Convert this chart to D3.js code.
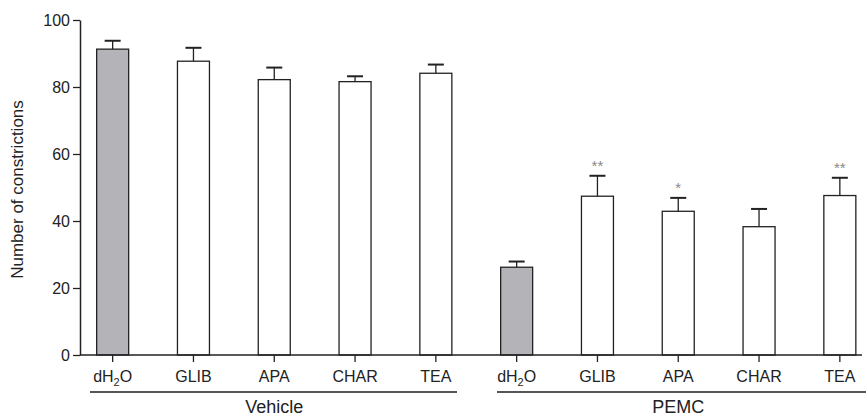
<!DOCTYPE html>
<html>
<head>
<meta charset="utf-8">
<script src="https://cdn.jsdelivr.net/npm/d3@7"></script>
<style>
  body { margin: 0; background: #fff; }
  svg text { font-family: "Liberation Sans", Arial, sans-serif; fill: #222; }
</style>
</head>
<body>
<div id="root"></div>
<script>
// chart values
var groups = ["Vehicle", "PEMC"];
var treatments = ["dH2O", "GLIB", "APA", "CHAR", "TEA"];
var vehicleMeans = [91.3, 87.7, 82.2, 81.6, 84.1];
var vehicleErrs = [2.5, 4.0, 3.6, 1.6, 2.6];
var pemcMeans = [26.2, 47.4, 42.9, 38.3, 47.6];
var pemcErrs = [1.7, 6.1, 4.0, 5.3, 5.3];
var pemcStars = ["", "**", "*", "", "**"];
var yTicks = [0, 20, 40, 60, 80, 100];

var width = 866, height = 416;
var margin = { top: 20, left: 80, right: 4, bottom: 61 };

// flatten into one row per bar
var data = [];
groups.forEach(function (g, gi) {
    treatments.forEach(function (t, ti) {
        data.push({
            group: g,
            label: t,
            mean: gi === 0 ? vehicleMeans[ti] : pemcMeans[ti],
            err: gi === 0 ? vehicleErrs[ti] : pemcErrs[ti],
            star: gi === 0 ? "" : pemcStars[ti],
            control: t === "dH2O"
        });
    });
});

var svg = d3.select("#root").append("svg")
    .attr("width", width)
    .attr("height", height);

var y = d3.scaleLinear()
    .domain([0, 100])
    .range([height - margin.bottom, margin.top]);

var x = d3.scaleBand()
    .domain(d3.range(data.length))
    .range([80.5, 872])
    .paddingInner(0.604)
    .paddingOuter(0.2);

var bw = x.bandwidth();
var cx = function (i) { return x(i) + bw / 2; };

// bars
svg.append("g").selectAll("rect")
    .data(data)
    .enter()
    .append("rect")
    .attr("x", function (d, i) { return x(i); })
    .attr("y", function (d) { return y(d.mean); })
    .attr("width", bw)
    .attr("height", function (d) { return y(0) - y(d.mean); })
    .attr("fill", function (d) { return d.control ? "#b4b4b8" : "#fff"; })
    .attr("stroke", "#222")
    .attr("stroke-width", 1.3);

// error bars (upper only)
var errs = svg.append("g").attr("stroke", "#222");
errs.selectAll(".stem")
    .data(data)
    .enter()
    .append("line")
    .attr("x1", function (d, i) { return cx(i); })
    .attr("x2", function (d, i) { return cx(i); })
    .attr("y1", function (d) { return y(d.mean); })
    .attr("y2", function (d) { return y(d.mean + d.err); })
    .attr("stroke-width", 1.3);
errs.selectAll(".cap")
    .data(data)
    .enter()
    .append("line")
    .attr("x1", function (d, i) { return cx(i) - 8; })
    .attr("x2", function (d, i) { return cx(i) + 8; })
    .attr("y1", function (d) { return y(d.mean + d.err); })
    .attr("y2", function (d) { return y(d.mean + d.err); })
    .attr("stroke-width", 2);

// significance stars
svg.append("g").selectAll("text")
    .data(data.filter(function (d) { return d.star; }))
    .enter()
    .append("text")
    .attr("x", function (d) { return cx(data.indexOf(d)); })
    .attr("y", function (d) { return y(d.mean + d.err) - 5; })
    .attr("text-anchor", "middle")
    .style("font-size", "15px")
    .style("fill", "#888")
    .text(function (d) { return d.star; });

// y axis
var yAxis = svg.append("g")
    .attr("transform", "translate(" + margin.left + ",0)")
    .call(d3.axisLeft(y).tickValues(yTicks).tickSize(7).tickPadding(3).tickSizeOuter(0));
yAxis.select(".domain").attr("stroke", "#222").attr("stroke-width", 1.5);
yAxis.selectAll(".tick line").attr("stroke", "#222").attr("stroke-width", 1.3);
yAxis.selectAll(".tick text").style("font-size", "16px").attr("fill", "#222");

// x axis
svg.append("line")
    .attr("x1", margin.left).attr("x2", 862)
    .attr("y1", y(0)).attr("y2", y(0))
    .attr("stroke", "#222").attr("stroke-width", 1.5);

svg.append("g").selectAll("line")
    .data(data)
    .enter()
    .append("line")
    .attr("x1", function (d, i) { return cx(i); })
    .attr("x2", function (d, i) { return cx(i); })
    .attr("y1", y(0))
    .attr("y2", y(0) + 7)
    .attr("stroke", "#222")
    .attr("stroke-width", 1.3);

var xLabels = svg.append("g").selectAll("text")
    .data(data)
    .enter()
    .append("text")
    .attr("x", function (d, i) { return cx(i); })
    .attr("y", 382)
    .attr("text-anchor", "middle")
    .style("font-size", "16px");

xLabels.each(function (d) {
    var t = d3.select(this);
    if (d.label === "dH2O") {
        t.append("tspan").text("dH");
        t.append("tspan").attr("dy", 4).style("font-size", "11px").text("2");
        t.append("tspan").attr("dy", -4).text("O");
    } else {
        t.text(d.label);
    }
});

// group brackets
var groupSpans = [
    { name: groups[0], x1: 90, x2: 457 },
    { name: groups[1], x1: 497, x2: 866 }
];
svg.append("g").selectAll("line")
    .data(groupSpans)
    .enter()
    .append("line")
    .attr("x1", function (d) { return d.x1; })
    .attr("x2", function (d) { return d.x2; })
    .attr("y1", 392).attr("y2", 392)
    .attr("stroke", "#555")
    .attr("stroke-width", 2);

svg.append("g").selectAll("text")
    .data(groups)
    .enter()
    .append("text")
    .attr("x", function (g, gi) {
        var first = gi * treatments.length, last = first + treatments.length - 1;
        return (cx(first) + cx(last)) / 2;
    })
    .attr("y", 413)
    .attr("text-anchor", "middle")
    .style("font-size", "18px")
    .text(function (g) { return g; });

// y axis title
svg.append("text")
    .attr("transform", "translate(23," + (y(50) + 2) + ") rotate(-90)")
    .attr("text-anchor", "middle")
    .style("font-size", "17px")
    .text("Number of constrictions");
</script>
</body>
</html>
